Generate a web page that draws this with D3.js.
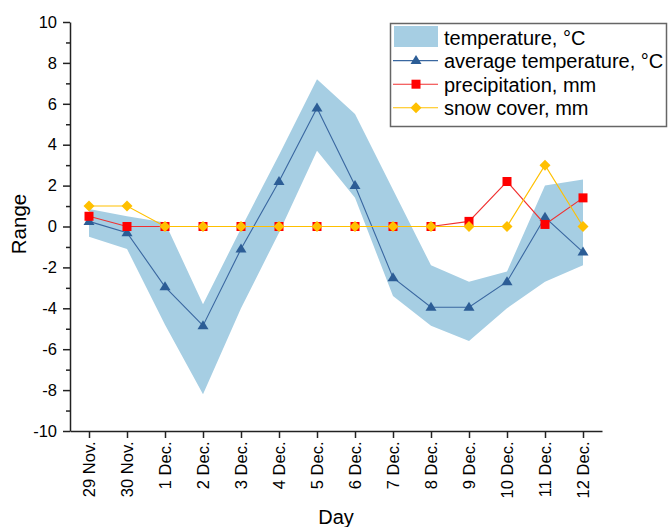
<!DOCTYPE html>
<html>
<head>
<meta charset="utf-8">
<script src="https://cdn.jsdelivr.net/npm/d3@7"></script>
<style>
  body { margin: 0; background: #fff; }
  text { font-family: "Liberation Sans", Arial, sans-serif; fill: #000; }
</style>
</head>
<body>
<div id="chart"></div>
<script>
// data
var days = ["29 Nov.", "30 Nov.", "1 Dec.", "2 Dec.", "3 Dec.", "4 Dec.", "5 Dec.",
            "6 Dec.", "7 Dec.", "8 Dec.", "9 Dec.", "10 Dec.", "11 Dec.", "12 Dec."];
var tempMax = [0.85, 0.5, 0.2, -3.8, -0.1, 3.5, 7.2, 5.5, 1.8, -1.9, -2.7, -2.2, 2.0, 2.3];
var tempMin = [-0.5, -1.1, -4.8, -8.2, -4.0, -0.3, 3.7, 1.4, -3.4, -4.85, -5.6, -4.0, -2.7, -1.9];
var avgTemp = [0.25, -0.3, -2.95, -4.85, -1.1, 2.2, 5.8, 2.0, -2.5, -3.95, -3.95, -2.7, 0.45, -1.25];
var precip  = [0.5, 0, 0, 0, 0, 0, 0, 0, 0, 0, 0.25, 2.2, 0.1, 1.4];
var snow    = [1, 1, 0, 0, 0, 0, 0, 0, 0, 0, 0, 0, 3, 0];
var yTicks  = [-10, -8, -6, -4, -2, 0, 2, 4, 6, 8, 10];
var yMinor  = [-9, -7, -5, -3, -1, 1, 3, 5, 7, 9];

var W = 668, H = 527;
var plot = {left: 70, right: 602, top: 22, bottom: 431};

var svg = d3.select("#chart").append("svg")
    .attr("width", W)
    .attr("height", H);

var x = d3.scalePoint()
  .domain(days)
  .range([plot.left, plot.right])
  .padding(0.5);

var y = d3.scaleLinear()
  .domain([-10, 10])
  .range([plot.bottom, plot.top]);

var rows = days.map(function(d, i) {
  return {day: d, hi: tempMax[i], lo: tempMin[i], avg: avgTemp[i], pr: precip[i], sn: snow[i]};
});

// temperature band
var area = d3.area()
  .x(function(d) { return x(d.day); })
  .y0(function(d) { return y(d.lo); })
  .y1(function(d) { return y(d.hi); });

svg.append("path")
  .datum(rows)
  .attr("d", area)
  .attr("fill", "#a6cee3");

// marker shapes
var tri = "M0,-5.5L5.5,3.5L-5.5,3.5Z";
var sq = "M-4.5,-4.5H4.5V4.5H-4.5Z";
var dia = "M0,-5.5L5.5,0L0,5.5L-5.5,0Z";

var series = [
  {key: "avg", color: "#2c5d96", line: "#3a67a0", shape: tri},
  {key: "pr", color: "#ff0000", line: "#f03030", shape: sq},
  {key: "sn", color: "#ffc000", line: "#ffc000", shape: dia}
];

series.forEach(function(s) {
  var line = d3.line()
    .x(function(d) { return x(d.day); })
    .y(function(d) { return y(d[s.key]); });
  svg.append("path")
    .datum(rows)
    .attr("d", line)
    .attr("fill", "none")
    .attr("stroke", s.line)
    .attr("stroke-width", 1.1);
  svg.selectAll(null)
    .data(rows)
    .enter()
    .append("path")
      .attr("d", s.shape)
      .attr("transform", function(d) { return "translate(" + x(d.day) + "," + y(d[s.key]) + ")"; })
      .attr("fill", s.color);
});

// axes
svg.append("g")
  .attr("transform", "translate(" + plot.left + ",0)")
  .call(d3.axisLeft(y).tickValues(yTicks).tickSize(7).tickSizeOuter(0).tickPadding(6)
    .tickFormat(function(d) { return String(d); }));

svg.append("g")
  .attr("transform", "translate(" + plot.left + ",0)")
  .call(d3.axisLeft(y).tickValues(yMinor).tickSize(4).tickFormat(""))
  .select(".domain").remove();

var xAxis = svg.append("g")
  .attr("transform", "translate(0," + plot.bottom + ")")
  .call(d3.axisBottom(x).tickSize(7).tickSizeOuter(0));

xAxis.selectAll("text")
  .attr("transform", "rotate(-90)")
  .attr("x", -10.5)
  .attr("y", 0)
  .attr("dy", "0.35em")
  .style("text-anchor", "end");

svg.selectAll(".domain, .tick line")
  .attr("stroke", "#222")
  .attr("stroke-width", 1.5);

svg.selectAll(".tick text")
  .style("font-size", "16.5px")
  .style("font-family", "'Liberation Sans', Arial, sans-serif")
  .attr("fill", "#111");

// axis titles
svg.append("text")
  .attr("transform", "translate(26,224)rotate(-90)")
  .attr("text-anchor", "middle")
  .style("font-size", "20.5px")
  .text("Range");

svg.append("text")
  .attr("x", 336)
  .attr("y", 524)
  .attr("text-anchor", "middle")
  .style("font-size", "20px")
  .text("Day");

// legend
var lg = svg.append("g");
lg.append("rect")
  .attr("x", 390.5)
  .attr("y", 23.5)
  .attr("width", 276)
  .attr("height", 103)
  .attr("fill", "#fff")
  .attr("stroke", "#666")
  .attr("stroke-width", 1.5);

lg.append("rect")
  .attr("x", 394)
  .attr("y", 26)
  .attr("width", 44)
  .attr("height", 21)
  .attr("fill", "#a6cee3");

var legendItems = [
  {label: "temperature, °C"},
  {label: "average temperature, °C", s: series[0]},
  {label: "precipitation, mm", s: series[1]},
  {label: "snow cover, mm", s: series[2]}
];

legendItems.forEach(function(it, i) {
  var cy = 37 + i * 23.6;
  if (it.s) {
    lg.append("line")
      .attr("x1", 393).attr("x2", 438)
      .attr("y1", cy).attr("y2", cy)
      .attr("stroke", it.s.line)
      .attr("stroke-width", 1.1);
    lg.append("path")
      .attr("d", it.s.shape)
      .attr("transform", "translate(416," + cy + ")")
      .attr("fill", it.s.color);
  }
  lg.append("text")
    .attr("x", 444)
    .attr("y", cy + 7.5)
    .style("font-size", "20px")
    .text(it.label);
});
</script>
</body>
</html>
